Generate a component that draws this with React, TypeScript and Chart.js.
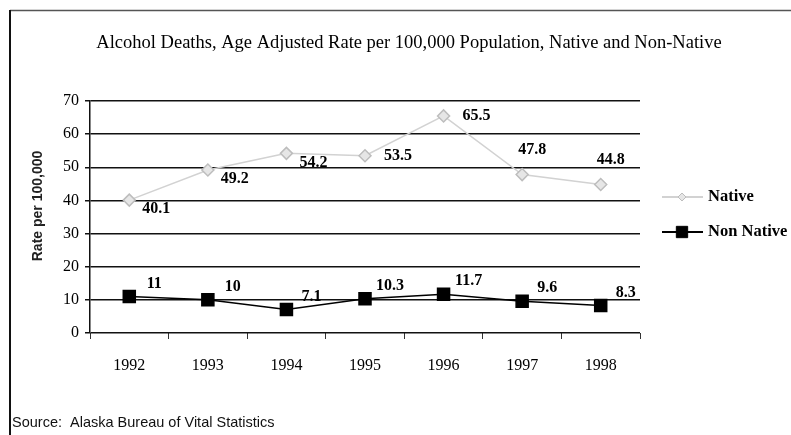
import { useEffect, useRef } from 'react';
import { Chart, registerables } from 'chart.js';

Chart.register(...registerables);

const years = ['1992', '1993', '1994', '1995', '1996', '1997', '1998'];
const nativeRates = [40.1, 49.2, 54.2, 53.5, 65.5, 47.8, 44.8];
const nonNativeRates = [11, 10, 7.1, 10.3, 11.7, 9.6, 8.3];
const yMin = 0;
const yMax = 70;
const yStep = 10;
const titleText = 'Alcohol Deaths, Age Adjusted Rate per 100,000 Population, Native and Non-Native';
const yAxisTitle = 'Rate per 100,000';
const sourceText = 'Source:  Alaska Bureau of Vital Statistics';
const seriesNames = ['Native', 'Non Native'];

const SERIF = '"Liberation Serif", "Times New Roman", serif';
const SANS = '"Liberation Sans", Arial, sans-serif';

function drawMarker(ctx: CanvasRenderingContext2D, style: string, x: number, y: number, r: number, fill: string, stroke: string) {
  ctx.save();
  ctx.fillStyle = fill;
  ctx.strokeStyle = stroke;
  ctx.lineWidth = 1;
  ctx.beginPath();
  if (style === 'rect') {
    const s = Math.SQRT1_2 * r;
    ctx.rect(x - s, y - s, 2 * s, 2 * s);
  } else {
    ctx.moveTo(x, y - r);
    ctx.lineTo(x + r, y);
    ctx.lineTo(x, y + r);
    ctx.lineTo(x - r, y);
    ctx.closePath();
  }
  ctx.fill();
  ctx.stroke();
  ctx.restore();
}

const decor = {
  id: 'decor',
  beforeDraw(chart: any) {
    const ctx: CanvasRenderingContext2D = chart.ctx;
    ctx.save();
    ctx.fillStyle = '#ffffff';
    ctx.fillRect(0, 0, chart.width, chart.height);
    // frame
    ctx.strokeStyle = '#555';
    ctx.lineWidth = 1.5;
    ctx.beginPath();
    ctx.moveTo(10, 10.5);
    ctx.lineTo(chart.width, 10.5);
    ctx.stroke();
    ctx.strokeStyle = '#111';
    ctx.lineWidth = 2;
    ctx.beginPath();
    ctx.moveTo(10, 10);
    ctx.lineTo(10, chart.height);
    ctx.stroke();
    ctx.restore();
  },
  afterDraw(chart: any) {
    const ctx: CanvasRenderingContext2D = chart.ctx;
    const opts = chart.options.plugins.decor;
    ctx.save();
    ctx.fillStyle = '#000';
    // title
    ctx.font = `18.5px ${SERIF}`;
    ctx.textAlign = 'center';
    ctx.textBaseline = 'middle';
    ctx.fillText(titleText, 409, 43);
    // y axis title
    ctx.save();
    ctx.translate(38, 206);
    ctx.rotate(-Math.PI / 2);
    ctx.font = `bold 14px ${SANS}`;
    ctx.fillStyle = '#222';
    ctx.fillText(yAxisTitle, 0, 0);
    ctx.restore();
    // source
    ctx.font = `14.5px ${SANS}`;
    ctx.textAlign = 'left';
    ctx.fillStyle = '#111';
    ctx.fillText(sourceText, 12, 423);

    // legend
    chart.data.datasets.forEach((ds: any, i: number) => {
      const y = 197 + i * 35;
      ctx.strokeStyle = ds.borderColor;
      ctx.lineWidth = ds.borderWidth + 0.5;
      ctx.beginPath();
      ctx.moveTo(662, y);
      ctx.lineTo(703, y);
      ctx.stroke();
      drawMarker(ctx, ds.pointStyle, 682, y, i === 0 ? 4 : 8, ds.pointBackgroundColor, ds.pointBorderColor);
      ctx.fillStyle = '#000';
      ctx.font = `bold 16.5px ${SERIF}`;
      ctx.textAlign = 'left';
      ctx.textBaseline = 'middle';
      ctx.fillText(ds.label, 708, y);
    });

    // value labels
    ctx.font = `bold 16px ${SERIF}`;
    ctx.textAlign = 'center';
    ctx.textBaseline = 'middle';
    ctx.fillStyle = '#000';
    chart.data.datasets.forEach((ds: any, i: number) => {
      const meta = chart.getDatasetMeta(i);
      meta.data.forEach((pt: any, j: number) => {
        const place = opts.placement[i][j];
        let dx = 25, dy = -13;
        if (place === 'below') { dx = 27; dy = 9; }
        if (place === 'side') { dx = 33; dy = 0; }
        if (place === 'above') { dx = 10; dy = -25; }
        ctx.fillText(String(ds.data[j]), pt.x + dx, pt.y + dy);
      });
    });
    ctx.restore();
  },
};

export default function App() {
  const ref = useRef<HTMLCanvasElement | null>(null);
  useEffect(() => {
    if (!ref.current) return;
    const chart = new Chart(ref.current, {
      type: 'line',
      data: {
        labels: years,
        datasets: [
          {
            label: seriesNames[0],
            data: nativeRates,
            borderColor: '#d2d2d2',
            borderWidth: 1.5,
            pointStyle: 'rectRot',
            pointRadius: 6,
            pointBackgroundColor: '#e6e6e6',
            pointBorderColor: '#bdbdbd',
            tension: 0,
          },
          {
            label: seriesNames[1],
            data: nonNativeRates,
            borderColor: '#000000',
            borderWidth: 1.5,
            pointStyle: 'rect',
            pointRadius: 8.5,
            pointBackgroundColor: '#000000',
            pointBorderColor: '#000000',
            tension: 0,
          },
        ],
      },
      options: {
        responsive: false,
        animation: false,
        events: [],
        layout: { padding: { left: 10, top: 101, right: 151, bottom: 0 } },
        plugins: {
          legend: { display: false },
          title: { display: false },
          tooltip: { enabled: false },
          decor: {
            placement: [
              ['below', 'below', 'below', 'side', 'side', 'above', 'above'],
              ['right', 'right', 'right', 'right', 'right', 'right', 'right'],
            ],
          },
        } as any,
        scales: {
          x: {
            offset: true,
            grid: { offset: true, drawOnChartArea: false, color: '#333', lineWidth: 1, tickLength: 6 },
            border: { display: false },
            ticks: { color: '#000', font: { family: SERIF, size: 16 }, padding: 17, maxRotation: 0 },
            afterFit(s: any) { s.height = 102; },
          },
          y: {
            min: yMin,
            max: yMax,
            ticks: { stepSize: yStep, color: '#000', font: { family: SERIF, size: 16 }, padding: 6 },
            grid: { color: '#111', lineWidth: 1.5, tickLength: 5 },
            border: { color: '#111', width: 1.5 },
            afterFit(s: any) { s.width = 80; },
          },
        },
      },
      plugins: [decor],
    });
    return () => chart.destroy();
  }, []);
  return (
    <div style={{ position: 'fixed', left: 0, top: 0, width: 791, height: 435 }}>
      <canvas ref={ref} width={791} height={435} style={{ width: 791, height: 435, display: 'block' }} />
    </div>
  );
}
